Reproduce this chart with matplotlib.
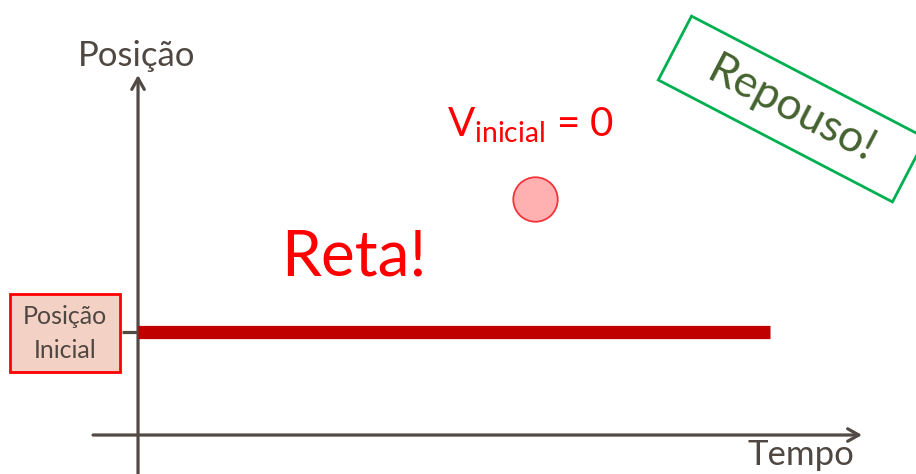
import matplotlib
matplotlib.use("Agg")
from matplotlib import pyplot as plt
from matplotlib.patches import Rectangle

plt.rcParams['font.family'] = ['Lato', 'DejaVu Sans']

# data: position stays constant over time (rest)
tempo = [0, 10]
posicao = [2, 2]
posicao_inicial = 2
bola_t = [6.28]
bola_pos = [4.58]

axis_color = '#524A44'
text_gray = '#4F4741'

fig = plt.figure(figsize=(9.16, 4.74), dpi=100)
ax = fig.add_axes([0, 0, 1, 1])
ax.set_xlim(-2.184, 12.310)
ax.set_ylim(-0.757, 8.447)
ax.axis('off')

# overlay in pixel coordinates for labels / boxes
deco = fig.add_axes([0, 0, 1, 1], zorder=3)
deco.set_xlim(0, 916)
deco.set_ylim(474, 0)
deco.axis('off')
deco.patch.set_alpha(0)

arrow = dict(arrowstyle='->,head_length=0.8,head_width=0.45', lw=2.3,
             color=axis_color, shrinkA=0, shrinkB=0)
# y axis
ax.annotate('', xy=(0, 6.99), xytext=(0, -0.8), arrowprops=arrow)
# x axis
ax.annotate('', xy=(11.456, 0), xytext=(-0.712, 0), arrowprops=arrow)

# tick for initial position
ax.plot([-0.253, 0.237], [posicao_inicial, posicao_inicial], color=axis_color,
        lw=2.3, solid_capstyle='butt', zorder=2)

# position line
ax.plot(tempo, posicao, color='#C00000', lw=9.5, solid_capstyle='butt', zorder=3)

# ball
ax.plot(bola_t, bola_pos, 'o', ms=32, mfc='#FFB0B0', mec='#F5333B', mew=1.3)

# axis labels
deco.text(137, 56, 'Posição', ha='center', va='center', fontsize=25, color=text_gray)
deco.text(801, 455, 'Tempo', ha='center', va='center', fontsize=25, color=text_gray)

# Posição inicial box
deco.add_patch(Rectangle((10, 294), 110, 78, fc='#F3D1C4', ec='#FF0000', lw=2))
deco.text(65, 317, 'Posição', ha='center', va='center', fontsize=18, color=text_gray)
deco.text(65, 350, 'Inicial', ha='center', va='center', fontsize=18, color=text_gray)

# annotations
deco.text(354, 258, 'Reta!', ha='center', va='center', fontsize=46, color='#FF0000')
deco.text(530, 125, r'V$_{\mathregular{inicial}}$ = 0', ha='center', va='center',
          fontsize=29, color='#FF0000')

# Repouso box
deco.add_patch(Rectangle((792 - 132, 109 - 36), 264, 72, angle=27.5,
                         rotation_point='center', fc='white', ec='#00B050', lw=2))
deco.text(792, 110, 'Repouso!', ha='center', va='center', rotation=-27.5,
          rotation_mode='anchor', fontsize=32, color='#44622F')

fig.savefig('out.png', dpi=100)
